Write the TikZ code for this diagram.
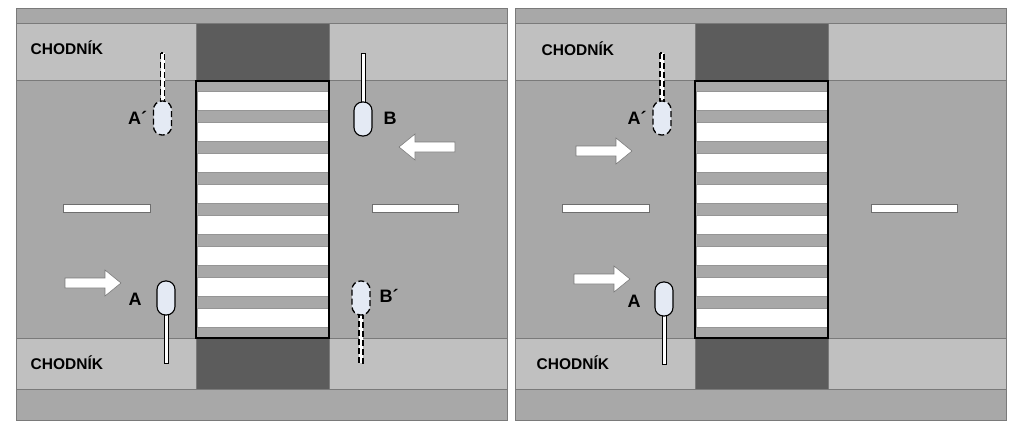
\documentclass[tikz,border=0pt]{standalone}
\usepackage{fontspec}
\setmainfont{Liberation Sans}
\definecolor{road}{HTML}{A8A8A8}
\definecolor{walk}{HTML}{C0C0C0}
\definecolor{dark}{HTML}{5C5C5C}
\definecolor{edge}{HTML}{7A7A7A}
\definecolor{pedfill}{HTML}{E4EAF4}
\tikzset{
  roadfill/.style={fill=road,draw=edge,line width=0.8pt},
  walkfill/.style={fill=walk,draw=edge,line width=0.8pt},
  darkfill/.style={fill=dark,draw=edge,line width=0.6pt},
  stripe/.style={fill=white,draw=edge!80,line width=0.5pt},
  lane/.style={fill=white,draw=edge!90!black,line width=0.6pt},
  zebra/.style={draw=black,line width=1.6pt},
  barrow/.style={fill=white,draw=edge,line width=0.6pt},
  stick/.style={fill=white,draw=black,line width=0.9pt},
  body/.style={fill=pedfill,draw=black,line width=1.1pt,rounded corners=8.5pt},
  ghost/.style={dash pattern=on 6pt off 3pt,line width=1.3pt},
  walklabel/.style={font=\bfseries\fontsize{15.5}{15.5}\selectfont,anchor=base west,inner sep=0pt},
  pedlabel/.style={font=\bfseries\fontsize{18}{18}\selectfont,anchor=base west,inner sep=0pt}
}
% pedestrian standing with stick upward: x, stick top, body top, style
\newcommand\pedUp[4]{%
  \draw[stick,#4] ({#1-2},#2) rectangle ({#1+2},{#3+3});
  \draw[body,#4] ({#1-9},#3) rectangle ({#1+9},{#3+34});}
% pedestrian with stick downward: x, body top, stick bottom, style
\newcommand\pedDown[4]{%
  \draw[stick,#4] ({#1-2},{#2+31}) rectangle ({#1+2},#3);
  \draw[body,#4] ({#1-9},#2) rectangle ({#1+9},{#2+34});}
% block arrow pointing right: tip x, centre y
\newcommand\arrRight[2]{%
  \draw[barrow] ({#1-56},{#2-5}) -- ({#1-16},{#2-5}) -- ({#1-16},{#2-13}) -- (#1,#2)
    -- ({#1-16},{#2+13}) -- ({#1-16},{#2+5}) -- ({#1-56},{#2+5}) -- cycle;}
% block arrow pointing left: tip x, centre y
\newcommand\arrLeft[2]{%
  \draw[barrow] ({#1+56},{#2-5}) -- ({#1+16},{#2-5}) -- ({#1+16},{#2-13}) -- (#1,#2)
    -- ({#1+16},{#2+13}) -- ({#1+16},{#2+5}) -- ({#1+56},{#2+5}) -- cycle;}
% common street scene
\newcommand\street{%
  \draw[roadfill] (16,8) rectangle (507,420);
  \draw[walkfill] (16,23) rectangle (507,80.5);
  \draw[walkfill] (16,338) rectangle (507,389.5);
  \draw[darkfill] (196,23) rectangle (329,80.5);
  \draw[darkfill] (196,338) rectangle (329,389.5);
  \foreach \s in {0,...,7}{
    \draw[stripe] (197,{91+31*\s}) rectangle (328,{110+31*\s});}
  \draw[zebra] (196,81) rectangle (329,338);
  \draw[lane] (63,204) rectangle (150,212.5);
  \draw[lane] (372,204) rectangle (458,212.5);}
\begin{document}
\begin{tikzpicture}[x=1pt,y=-1pt]
\useasboundingbox (0,0) rectangle (1024,434);
\fill[white] (0,0) rectangle (1024,434);
% ---- left panel ----
\street
\node[walklabel] (lw1) at (30.5,54) {CHODNÍK};
\node[walklabel] (lw2) at (30.5,369.5) {CHODNÍK};
\pedUp{162.5}{53}{101}{ghost}
\pedUp{363}{53}{102}{}
\pedDown{166}{281}{363}{}
\pedDown{361}{281}{363}{ghost}
\node[pedlabel] (la1) at (128,124.5) {A´};
\node[pedlabel] (lb) at (383.5,124) {B};
\node[pedlabel] (la) at (128.5,305.5) {A};
\node[pedlabel] (lb1) at (379.5,302.5) {B´};
\arrLeft{399}{147}
\arrRight{121}{283}
% ---- right panel ----
\begin{scope}[xshift=499pt]
\street
\end{scope}
\node[walklabel] (rw1) at (541.5,55.5) {CHODNÍK};
\node[walklabel] (rw2) at (536.5,369.5) {CHODNÍK};
\pedUp{662}{53}{101}{ghost}
\pedDown{664}{282}{364}{}
\node[pedlabel] (ra1) at (627.5,124.5) {A´};
\node[pedlabel] (ra) at (627.5,307.5) {A};
\arrRight{632}{151}
\arrRight{630}{279}
\end{tikzpicture}
\end{document}
